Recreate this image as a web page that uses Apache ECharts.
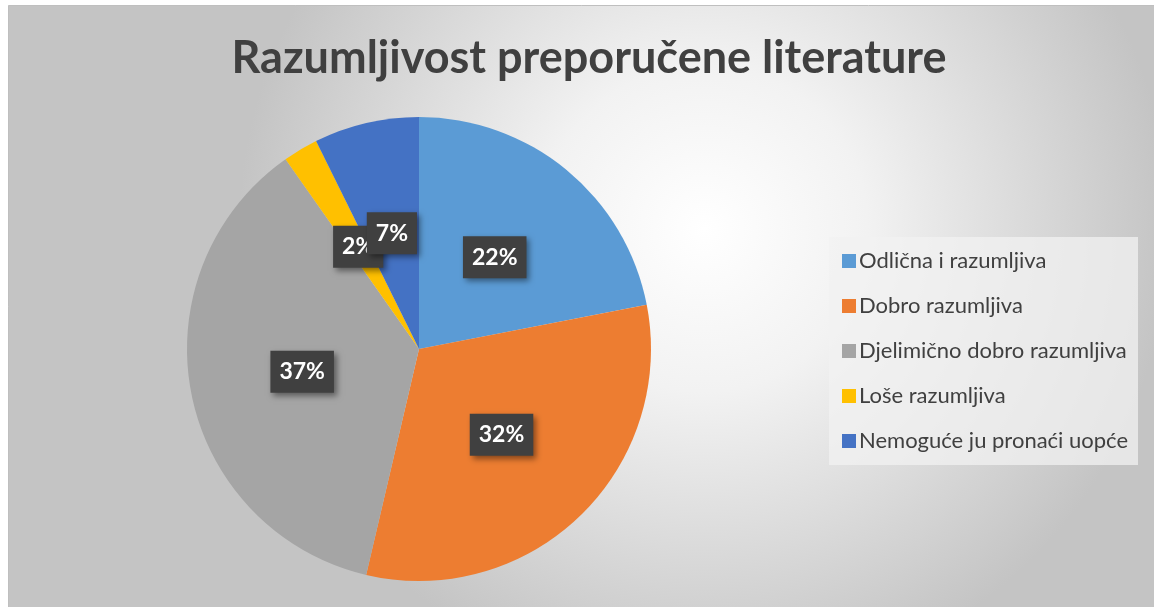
<!DOCTYPE html>
<html>
<head>
<meta charset="utf-8">
<script src="https://cdn.jsdelivr.net/npm/echarts@6/dist/echarts.min.js"></script>
<style>
html, body {margin: 0; padding: 0; background: #fff;}
#chart {width: 1154px; height: 607px;}
</style>
</head>
<body>
<div id="chart"></div>
<script>
var title = 'Razumljivost preporučene literature';
var categories = ['Odlična i razumljiva', 'Dobro razumljiva', 'Djelimično dobro razumljiva', 'Loše razumljiva', 'Nemoguće ju pronaći uopće'];
var counts = [9, 13, 15, 1, 3];
var colors = ['#5b9bd5', '#ed7d31', '#a5a5a5', '#ffc000', '#4472c4'];

var pieData = categories.map(function (name, i) {
	return {name: name, value: counts[i], itemStyle: {color: colors[i]}};
});

var chart = echarts.init(document.getElementById('chart'));
var option = {
	animation: false,
	textStyle: {fontFamily: 'Lato'},
	graphic: [{
		type: 'rect',
		z: -10,
		silent: true,
		shape: {x: 8.5, y: 5.5, width: 1160, height: 620},
		style: {
			fill: new echarts.graphic.RadialGradient(0.6, 0.36, 0.75, [
				{offset: 0, color: '#ffffff'},
				{offset: 0.35, color: '#f2f2f2'},
				{offset: 1, color: '#c4c4c4'}
			]),
			stroke: '#bfbfbf',
			lineWidth: 1
		}
	}],
	title: {
		text: title,
		left: 584,
		top: 31,
		textAlign: 'center',
		textStyle: {fontSize: 45, fontWeight: 'bold', color: '#404040', fontFamily: 'Lato'}
	},
	legend: {
		orient: 'vertical',
		left: 829,
		top: 237,
		padding: [13, 10, 13, 13],
		backgroundColor: 'rgba(242,242,242,0.75)',
		itemWidth: 14,
		itemHeight: 14,
		itemGap: 23,
		icon: 'rect',
		data: categories,
		textStyle: {fontSize: 22, color: '#404040', fontFamily: 'Lato', padding: [0, 0, 0, -2]}
	},
	series: [{
		type: 'pie',
		center: [419, 349],
		radius: 232,
		startAngle: 90,
		clockwise: true,
		percentPrecision: 0,
		data: pieData,
		labelLayout: {hideOverlap: false},
		label: {
			show: true,
			position: 'inside',
			formatter: '{d}%',
			color: '#ffffff',
			fontSize: 23,
			fontWeight: 'bold',
			fontFamily: 'Lato',
			backgroundColor: '#404040',
			padding: [10, 9, 9, 9],
			shadowColor: 'rgba(0,0,0,0.45)',
			shadowBlur: 6,
			shadowOffsetX: 3,
			shadowOffsetY: 3
		},
		labelLine: {show: false},
		emphasis: {disabled: true}
	}]
};
chart.setOption(option);
</script>
</body>
</html>
